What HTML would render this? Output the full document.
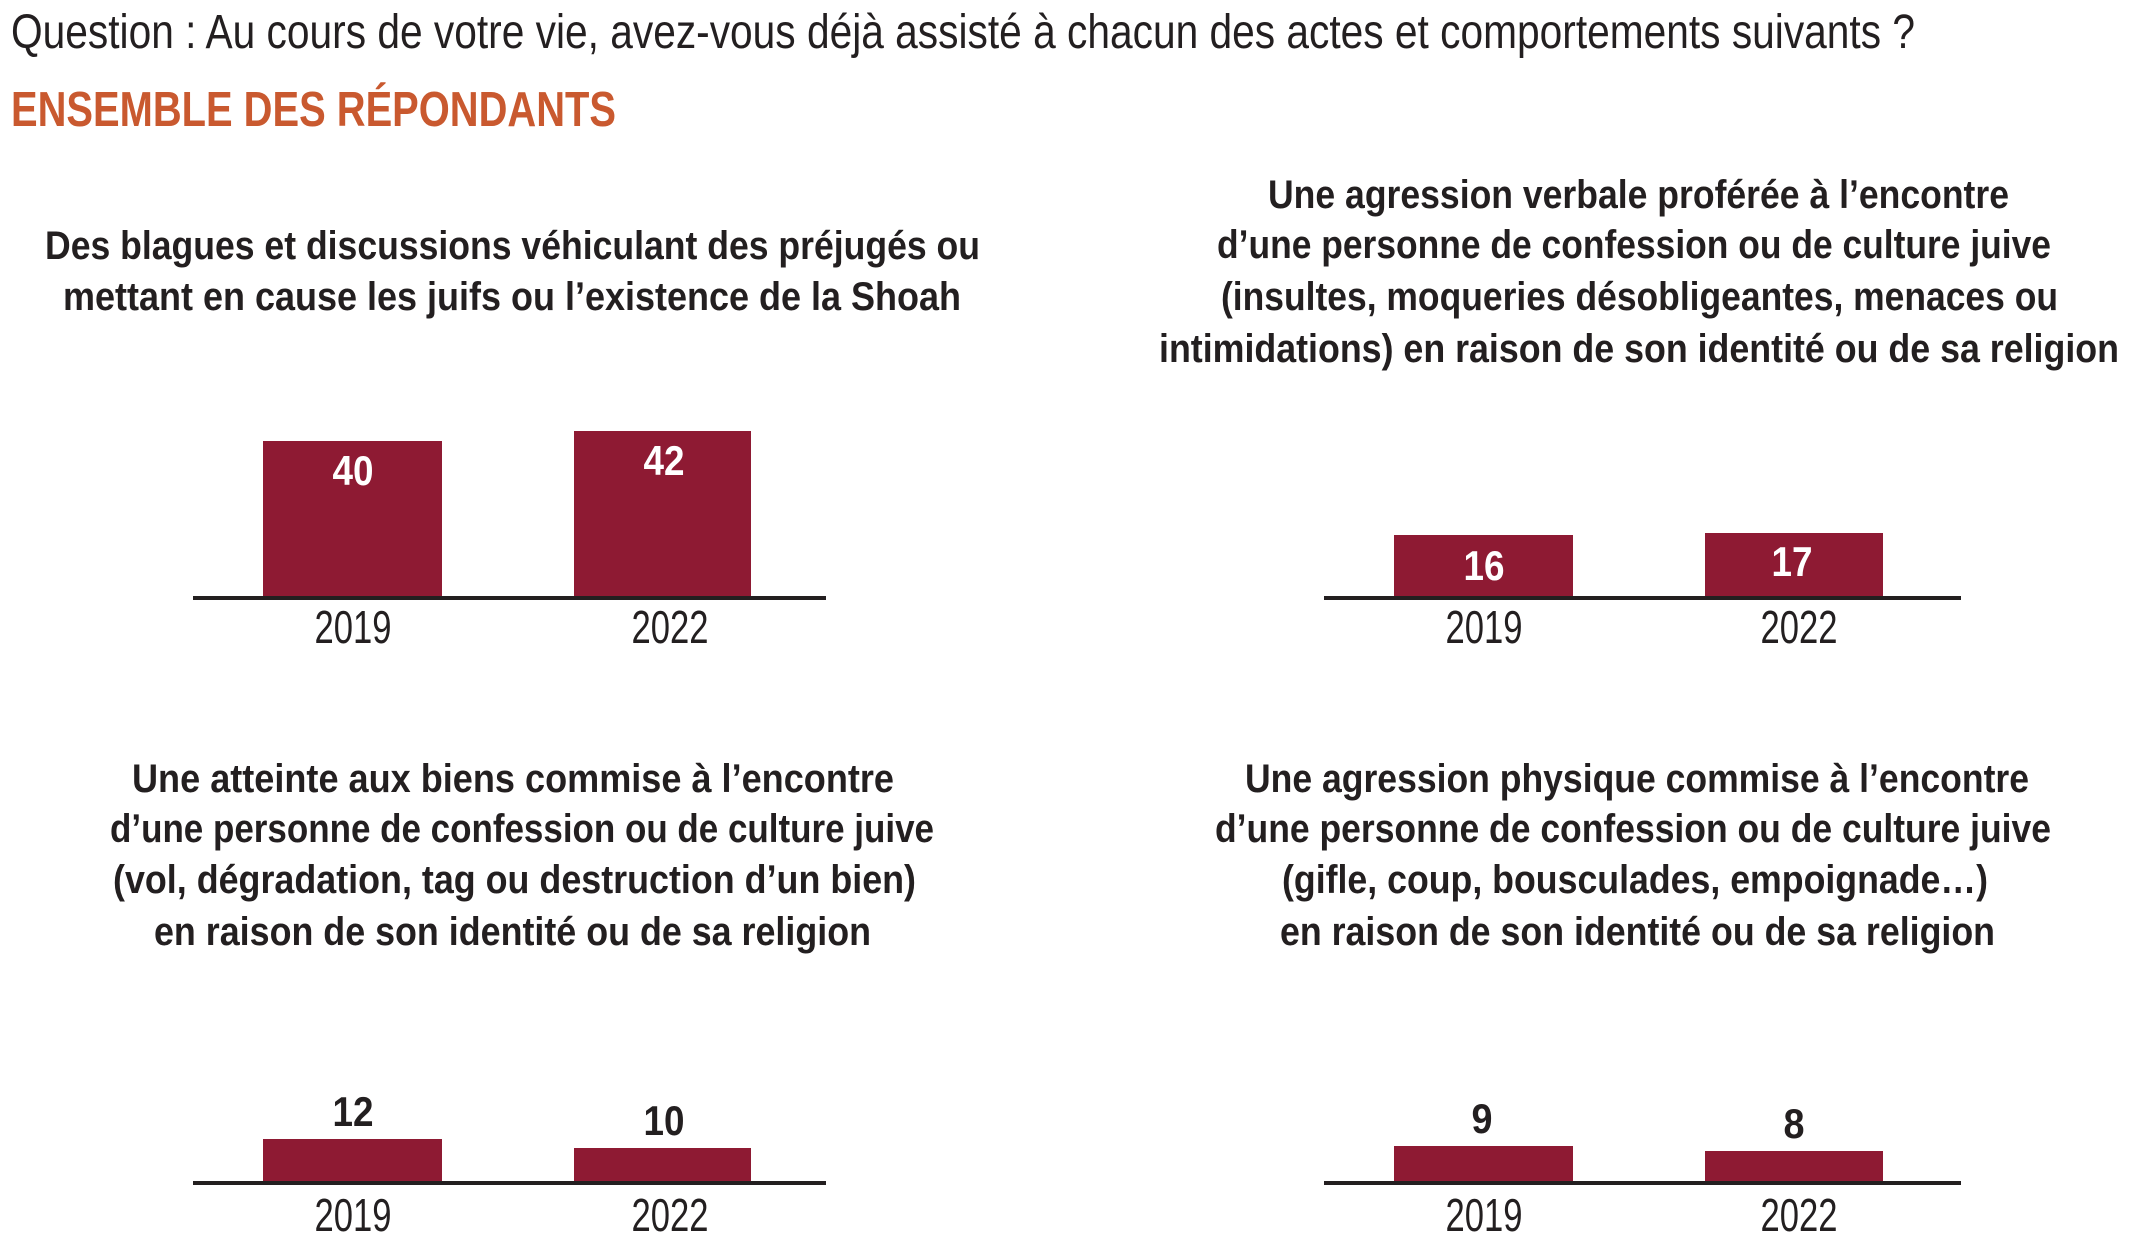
<!DOCTYPE html>
<html><head><meta charset="utf-8"><style>
html,body{margin:0;padding:0;background:#fff;}
svg{display:block;}
text{font-family:"Liberation Sans",sans-serif;fill:#231f20;}
.t{font-weight:bold;font-size:40px;}
.y{font-size:46px;}
.v{font-weight:bold;font-size:42px;}
</style></head><body>
<svg width="2142" height="1246" viewBox="0 0 2142 1246" xmlns="http://www.w3.org/2000/svg">
<text x="11" y="48" font-size="48" textLength="1904" lengthAdjust="spacingAndGlyphs">Question : Au cours de votre vie, avez-vous déjà assisté à chacun des actes et comportements suivants ?</text>
<text x="11" y="126" font-size="49" font-weight="bold" style="fill:#c9592f" textLength="605" lengthAdjust="spacingAndGlyphs">ENSEMBLE DES RÉPONDANTS</text>

<!-- Chart 1 -->
<text class="t" x="45" y="259" textLength="935" lengthAdjust="spacingAndGlyphs">Des blagues et discussions véhiculant des préjugés ou</text>
<text class="t" x="63" y="310" textLength="898" lengthAdjust="spacingAndGlyphs">mettant en cause les juifs ou l’existence de la Shoah</text>
<rect x="263" y="441" width="179" height="157" fill="#8e1a33"/>
<rect x="574" y="431" width="177" height="167" fill="#8e1a33"/>
<rect x="193" y="596" width="633" height="4" fill="#231f20"/>
<text class="v" x="353" y="485" text-anchor="middle" style="fill:#fff" textLength="41" lengthAdjust="spacingAndGlyphs">40</text>
<text class="v" x="664" y="475" text-anchor="middle" style="fill:#fff" textLength="41" lengthAdjust="spacingAndGlyphs">42</text>
<text class="y" x="353" y="643" text-anchor="middle" textLength="77" lengthAdjust="spacingAndGlyphs">2019</text>
<text class="y" x="670" y="643" text-anchor="middle" textLength="77" lengthAdjust="spacingAndGlyphs">2022</text>

<!-- Chart 2 -->
<text class="t" x="1268" y="208" textLength="741" lengthAdjust="spacingAndGlyphs">Une agression verbale proférée à l’encontre</text>
<text class="t" x="1217" y="258" textLength="834" lengthAdjust="spacingAndGlyphs">d’une personne de confession ou de culture juive</text>
<text class="t" x="1221" y="310" textLength="837" lengthAdjust="spacingAndGlyphs">(insultes, moqueries désobligeantes, menaces ou</text>
<text class="t" x="1159" y="362" textLength="960" lengthAdjust="spacingAndGlyphs">intimidations) en raison de son identité ou de sa religion</text>
<rect x="1394" y="535" width="179" height="63" fill="#8e1a33"/>
<rect x="1705" y="533" width="178" height="65" fill="#8e1a33"/>
<rect x="1324" y="596" width="637" height="4" fill="#231f20"/>
<text class="v" x="1484" y="580" text-anchor="middle" style="fill:#fff" textLength="41" lengthAdjust="spacingAndGlyphs">16</text>
<text class="v" x="1792" y="576" text-anchor="middle" style="fill:#fff" textLength="41" lengthAdjust="spacingAndGlyphs">17</text>
<text class="y" x="1484" y="643" text-anchor="middle" textLength="77" lengthAdjust="spacingAndGlyphs">2019</text>
<text class="y" x="1799" y="643" text-anchor="middle" textLength="77" lengthAdjust="spacingAndGlyphs">2022</text>

<!-- Chart 3 -->
<text class="t" x="132" y="792" textLength="762" lengthAdjust="spacingAndGlyphs">Une atteinte aux biens commise à l’encontre</text>
<text class="t" x="110" y="842" textLength="824" lengthAdjust="spacingAndGlyphs">d’une personne de confession ou de culture juive</text>
<text class="t" x="113" y="893" textLength="803" lengthAdjust="spacingAndGlyphs">(vol, dégradation, tag ou destruction d’un bien)</text>
<text class="t" x="154" y="945" textLength="717" lengthAdjust="spacingAndGlyphs">en raison de son identité ou de sa religion</text>
<rect x="263" y="1139" width="179" height="44" fill="#8e1a33"/>
<rect x="574" y="1148" width="177" height="35" fill="#8e1a33"/>
<rect x="193" y="1181" width="633" height="4" fill="#231f20"/>
<text class="v" x="353" y="1126" text-anchor="middle" textLength="41" lengthAdjust="spacingAndGlyphs">12</text>
<text class="v" x="664" y="1135" text-anchor="middle" textLength="41" lengthAdjust="spacingAndGlyphs">10</text>
<text class="y" x="353" y="1231" text-anchor="middle" textLength="77" lengthAdjust="spacingAndGlyphs">2019</text>
<text class="y" x="670" y="1231" text-anchor="middle" textLength="77" lengthAdjust="spacingAndGlyphs">2022</text>

<!-- Chart 4 -->
<text class="t" x="1245" y="792" textLength="784" lengthAdjust="spacingAndGlyphs">Une agression physique commise à l’encontre</text>
<text class="t" x="1215" y="842" textLength="836" lengthAdjust="spacingAndGlyphs">d’une personne de confession ou de culture juive</text>
<text class="t" x="1282" y="893" textLength="706" lengthAdjust="spacingAndGlyphs">(gifle, coup, bousculades, empoignade…)</text>
<text class="t" x="1280" y="945" textLength="715" lengthAdjust="spacingAndGlyphs">en raison de son identité ou de sa religion</text>
<rect x="1394" y="1146" width="179" height="37" fill="#8e1a33"/>
<rect x="1705" y="1151" width="178" height="32" fill="#8e1a33"/>
<rect x="1324" y="1181" width="637" height="4" fill="#231f20"/>
<text class="v" x="1482" y="1133" text-anchor="middle" textLength="21" lengthAdjust="spacingAndGlyphs">9</text>
<text class="v" x="1794" y="1138" text-anchor="middle" textLength="21" lengthAdjust="spacingAndGlyphs">8</text>
<text class="y" x="1484" y="1231" text-anchor="middle" textLength="77" lengthAdjust="spacingAndGlyphs">2019</text>
<text class="y" x="1799" y="1231" text-anchor="middle" textLength="77" lengthAdjust="spacingAndGlyphs">2022</text>
</svg>
</body></html>
